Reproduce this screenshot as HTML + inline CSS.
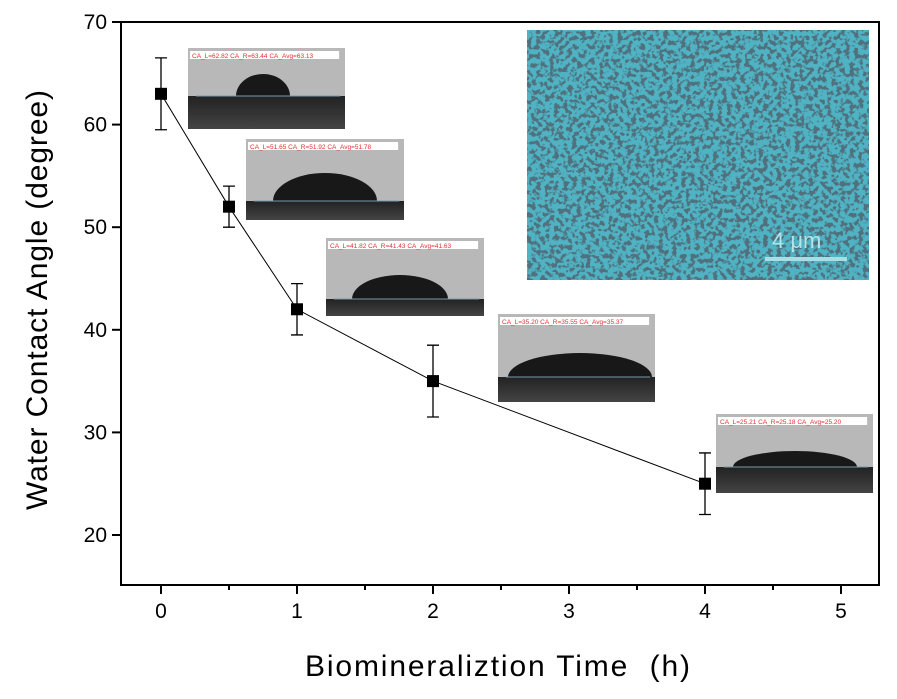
<!DOCTYPE html>
<html><head><meta charset="utf-8"><style>
body{margin:0;background:#fff;width:897px;height:694px;overflow:hidden;font-family:"Liberation Sans",Arial,sans-serif}
</style></head><body>
<svg id="chart" width="897" height="694" xmlns="http://www.w3.org/2000/svg">
<defs>
<filter id="sem" x="0" y="0" width="100%" height="100%">
<feTurbulence type="fractalNoise" baseFrequency="0.22" numOctaves="2" seed="5" result="n"/>
<feColorMatrix in="n" type="matrix" values="0 0 0 0 0.08  0 0 0 0 0.16  0 0 0 0 0.2  -8 0 0 0 4.2" result="holes"/>
<feComposite in="holes" in2="SourceGraphic" operator="over"/>
</filter>
<linearGradient id="sub" x1="0" y1="0" x2="0" y2="1"><stop offset="0" stop-color="#222"/><stop offset="1" stop-color="#444"/></linearGradient>
</defs>
<g id="frame"></g>
<g id="insets"></g>
<g id="series"></g>
<text x="305" y="676" font-size="30" textLength="385" lengthAdjust="spacing" fill="#000" xml:space="preserve">Biomineraliztion Time  (h)</text>
<text transform="translate(47,510) rotate(-90)" font-size="30" textLength="420" lengthAdjust="spacing" fill="#000">Water Contact Angle (degree)</text>
</svg>
<script>
const times=[0,0.5,1,2,4];
const angles=[63,52,42,35,25];
const errors=[3.5,2,2.5,3.5,3];
const xTicks=[0,1,2,3,4,5];
const yTicks=[20,30,40,50,60,70];
const insetLabels=["CA_L=62.82   CA_R=63.44   CA_Avg=63.13","CA_L=51.65   CA_R=51.92   CA_Avg=51.78","CA_L=41.82   CA_R=41.43   CA_Avg=41.63","CA_L=35.20   CA_R=35.55   CA_Avg=35.37","CA_L=25.21   CA_R=25.18   CA_Avg=25.20"];
const NS="http://www.w3.org/2000/svg";
const L=121,R=879,T=22,B=585;
const xs=v=>161+v*136;
const ys=v=>535-(v-20)*10.26;
function mk(tag,attrs,parent){const e=document.createElementNS(NS,tag);for(const k in attrs)e.setAttribute(k,attrs[k]);parent.appendChild(e);return e;}
const frame=document.getElementById('frame');
const box=mk('rect',{x:L,y:T,width:R-L,height:B-T,fill:'none',stroke:'#000','stroke-width':2},frame);


xTicks.forEach(t=>{
 const l=mk('line',{x1:xs(t),x2:xs(t),y1:B,y2:B+9,stroke:'#000','stroke-width':2},frame);
 
 
 const m=mk('line',{x1:xs(t+0.5),x2:xs(t+0.5),y1:B,y2:B+5,stroke:'#000','stroke-width':2},frame);
 
 
 const tx=mk('text',{x:xs(t),y:B+33,'font-size':21,'text-anchor':'middle'},frame);tx.textContent=t;
 
 
});
yTicks.forEach(t=>{
 const l=mk('line',{x1:L-9,x2:L,y1:ys(t),y2:ys(t),stroke:'#000','stroke-width':2},frame);
 
 
 const tx=mk('text',{x:L-14,y:ys(t)+7,'font-size':21,'text-anchor':'end'},frame);tx.textContent=t;
 
 
});
const ins=document.getElementById('insets');
const sem=mk('rect',{x:527,y:30,width:342,height:250,fill:'#4fb3c4',filter:'url(#sem)'},ins);


mk('line',{x1:765,x2:847,y1:259,y2:259,stroke:'#a8dde6','stroke-width':4},ins);
const sb=mk('text',{x:772,y:248,'font-size':22,fill:'#b5e3ea'},ins);sb.textContent='4 μm';


const boxes=[[188,48,157,81,96,263,27,22],[246,139,158,81,201,325,52,28],[326,238,158,78,299,400,48,24],[498,314,157,88,377,580,72,24],[716,414,157,79,467,795,62,16]];
boxes.forEach((b,i)=>{
 const [x,y,w,h,by,cx,rx,dh]=b;const g=mk('g',{},ins);
 
 
 mk('rect',{x:x,y:y,width:w,height:h,fill:'#b8b8b8'},g);
 mk('rect',{x:x,y:by,width:w,height:y+h-by,fill:'url(#sub)'},g);
 mk('path',{d:`M${cx-rx},${by} A${rx},${dh} 0 0 1 ${cx+rx},${by} Z`,fill:'#181818'},g);
 mk('line',{x1:x+w*0.05,x2:x+w*0.97,y1:by,y2:by,stroke:'#7a9ab0','stroke-width':1},g);
 mk('rect',{x:x+2,y:y+3,width:w*0.95,height:8,fill:'#fff'},g);
 const t=mk('text',{x:x+4,y:y+10,'font-size':6.5,fill:'#e03030'},g);t.textContent=insetLabels[i];
});
const s=document.getElementById('series');
const pl=mk('polyline',{points:times.map((t,i)=>xs(t)+','+ys(angles[i])).join(' '),fill:'none',stroke:'#000','stroke-width':1},s);


times.forEach((t,i)=>{
 const x=xs(t),y1=ys(angles[i]+errors[i]),y2=ys(angles[i]-errors[i]);
 const e=mk('path',{d:`M${x},${y1}V${y2}M${x-6},${y1}H${x+6}M${x-6},${y2}H${x+6}`,stroke:'#000','stroke-width':1.3,fill:'none'},s);
 
 
 const p=mk('rect',{x:x-6,y:ys(angles[i])-6,width:12,height:12,fill:'#000'},s);
 
 
});
</script>
</body></html>
